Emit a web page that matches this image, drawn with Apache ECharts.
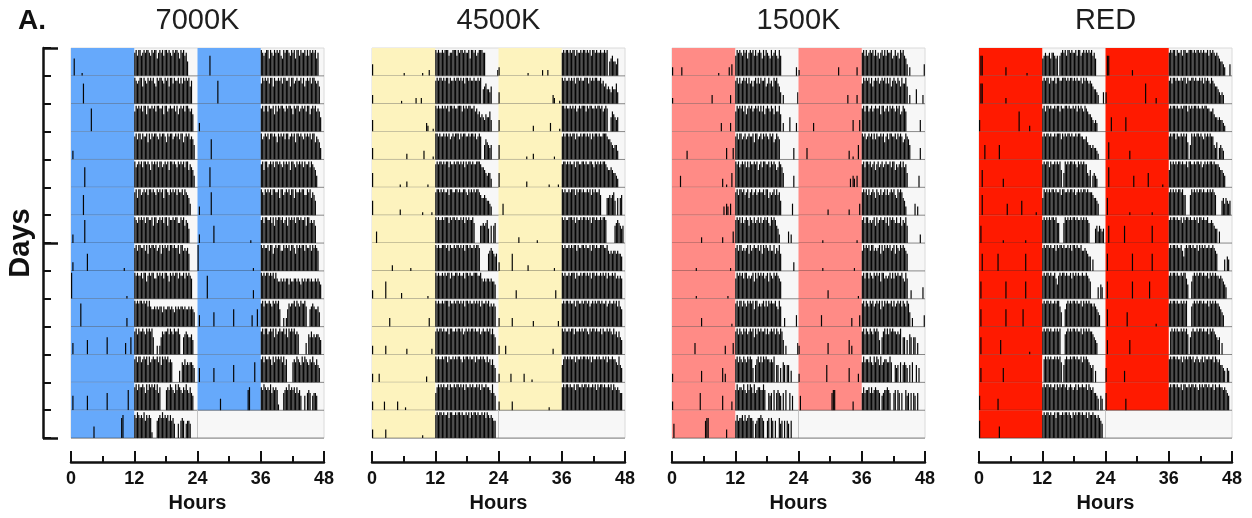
<!DOCTYPE html>
<html>
<head>
<meta charset="utf-8">
<script src="https://cdn.jsdelivr.net/npm/echarts@6/dist/echarts.min.js"></script>
<style>
  html, body { margin: 0; padding: 0; background: #ffffff; }
  #chart { width: 1252px; height: 518px; }
</style>
</head>
<body>
<div id="chart"></div>
<script>
// Double-plotted actograms: each row shows day n (0-24 h) and day n+1 (24-48 h).
// Activity is stored per day as 96 bins of 15 min (groups of 4 = one hour), counts scaled 0-9.
const HOUR_TICKS = [0, 12, 24, 36, 48];
const PANEL_TITLES = ['7000K', '4500K', '1500K', 'RED'];
const LIGHT_COLORS = ['#66a9fb', '#fdf3be', '#ff8b86', '#ff1a00'];

const ACT_7000K = [
  "0060 0000 1000 0000 0000 0000 0000 0000 0000 0000 0000 0000 8979 9789 8998 7989 9689 8979 9898 7989 9869 8978 5000 0000",
  "0000 0000 0700 0000 0000 0000 0000 0000 0000 0000 0000 0000 9878 9969 8798 9897 6989 9879 8969 9798 8979 7989 8968 0000",
  "0000 0000 0000 0008 0000 0000 0000 0000 0000 0000 0000 0000 7989 8979 9698 8989 7998 8969 9789 8897 9689 8979 9878 6000",
  "0300 0000 0000 0000 0000 0000 0000 0000 0000 0000 0000 0000 8979 9798 8969 7989 9879 8998 6989 9789 8979 9689 8978 7500",
  "0000 0000 0070 0000 0000 0000 0000 0000 0000 0000 0000 0000 9789 8979 9898 6989 8979 9789 8969 9898 7989 8979 9687 6400",
  "0000 0000 0700 0000 0000 0000 0000 0000 0000 0000 0000 0000 8969 9789 8979 9898 7989 8969 9879 8989 7988 9798 7640 0000",
  "0300 0000 0080 0000 0000 0000 0000 0000 0000 0000 0000 0000 9879 8989 7998 8969 9789 8979 9698 8989 9779 8968 7500 0000",
  "0300 0000 0000 6000 0000 0000 0000 0000 0000 0000 1000 0000 8979 9889 7969 8998 9789 6989 8979 9898 8969 9787 8600 0000",
  "9000 0000 0000 0000 0000 0000 0000 0000 0000 0000 0010 0000 9898 8979 9689 8997 7989 8979 9869 8989 9798 8979 8987 0000",
  "0000 0008 0000 0000 0000 0000 0000 0000 0000 0000 0030 0000 9898 9989 8979 7667 6767 7576 6776 7657 6767 7676 6767 6500",
  "0400 0000 0000 5000 0000 0000 0006 0000 0000 0000 0400 0600 8979 8898 7989 8960 0303 6878 8979 8798 8970 0678 7667 5000",
  "0000 0000 0000 0000 0000 0000 0000 0000 0000 0000 0000 0000 8979 9789 8969 7898 8979 6989 8978 7000 0040 7686 7677 6500",
  "0500 0000 0000 5000 0000 0000 0006 0000 0000 0000 0007 0000 8979 8898 6979 8989 7968 0000 7879 8769 7987 6879 7686 5000",
  "0000 0000 0000 0000 0400 0000 0000 0000 0000 0078 0000 0000 8798 7879 6878 7200 0678 7978 7868 6750 0506 7605 6650 0000"
];

const ACT_4500K = [
  "4000 0000 0000 0000 0000 0000 1000 0000 0000 0010 0002 0000 9898 8989 9978 8999 7989 9898 8969 9897 8999 8800 0000 0002",
  "3000 0000 0000 0000 0000 0010 0000 0000 0200 0200 0000 0000 8989 9898 9979 8898 9989 8979 9898 8988 9890 5675 5460 0000",
  "4000 0000 0000 0000 0000 0000 0000 0000 0000 0000 0320 0010 9898 8989 8979 9898 8999 7989 8998 8978 6756 5465 5740 0000",
  "4000 0000 0000 0000 0000 0000 0020 0000 0000 0003 0000 0010 9989 8898 9897 8989 9979 8998 8989 9897 8980 0576 5450 0000",
  "5000 0000 0000 0000 0000 0100 0020 0000 0000 0000 0010 0000 8989 9898 9979 8898 9989 8979 8998 9889 9987 7654 5530 0000",
  "5000 0000 0000 0000 0000 0200 0000 0000 0000 0010 0000 0100 8998 9898 8979 9889 9898 8998 7989 8989 9876 6765 5430 0000",
  "0004 0000 0000 0000 0000 0000 0000 0000 0000 0000 0000 0000 9898 8989 9979 8998 9889 8979 8988 9700 0066 7678 5060 6700",
  "0000 0000 0000 0002 0000 0000 0000 0100 0000 0000 0000 0000 9898 8999 8979 8898 9989 8979 9898 8989 9800 0000 6787 6560",
  "3000 0000 0060 0000 0000 0020 0000 0000 0000 0000 0010 0000 9898 8989 8997 9889 9898 8979 9898 8999 8897 6767 7676 6500",
  "0000 0000 0000 0300 0000 0000 0000 0000 0000 0000 0003 0000 9898 8989 9979 8898 9989 8979 9898 8989 8979 8898 9787 8700",
  "3000 0000 0030 0000 0000 0000 0020 0000 0000 0000 0000 0200 8989 9898 8979 9889 8998 9789 8989 9898 8978 9889 8979 7600",
  "3000 0300 0000 0000 0000 0000 0000 0000 0000 0000 0200 0000 9898 8989 9798 8989 8998 7989 9898 8979 8898 9879 7868 6500",
  "3000 0000 0300 0000 0003 0000 0100 0000 0000 0000 0000 0000 6898 9898 8979 8898 9989 8979 8898 9889 8979 8898 8769 6500",
  "3000 0000 0030 0000 0000 0000 0000 0000 0000 0010 0000 0000 8989 9898 8979 9889 8998 9889 8979 8998 9889 8979 8787 6600"
];

const ACT_1500K = [
  "3000 0003 0000 0000 0000 0000 0000 0000 0001 0000 0003 0400 7989 8798 9689 8979 7898 6979 8769 7897 6970 0000 0000 0030",
  "2000 0000 0000 0000 0000 0000 0000 0030 0000 0000 0000 3000 8979 7898 9797 8689 7979 8896 7978 6989 7640 3000 0000 0004",
  "0000 0000 0000 0000 0000 0000 0000 0000 0000 0300 0000 3000 7989 8979 6898 9789 8979 7968 9879 8697 7960 3000 0500 0030",
  "0000 0000 0003 0000 0000 0000 0000 0000 0000 0000 0400 0040 8979 9789 7898 8969 9789 7989 8798 9679 8700 0000 0000 4000",
  "0000 0040 0000 0000 0000 0000 0000 0000 0000 0030 0100 0500 9897 8989 7979 8898 9689 7998 8979 8986 7987 5000 0000 4000",
  "0000 0000 0000 0000 0000 0000 0000 0000 0000 0003 0430 4000 8979 9897 8968 9789 7898 8979 9687 8979 7850 0000 0004 0000",
  "0000 0000 0000 0000 0000 0020 0000 0000 0000 0020 0000 0040 8989 7978 9869 8797 8979 7898 9769 8986 5300 0000 4030 0000",
  "0000 0000 0000 0000 0010 0000 0000 0000 0000 0000 0000 1000 8979 9787 8969 7898 8979 6989 8797 7968 7960 0000 0000 3000",
  "0000 0000 0000 0000 0010 0000 0000 0000 0000 0000 0010 0000 7989 8979 9787 8969 7989 8978 9698 7989 8760 0000 0000 0000",
  "0000 0000 0000 0000 0000 0030 0000 0000 0000 0000 0000 0100 8979 9798 7989 8969 9787 8979 7989 8897 6970 0300 0000 0040",
  "0000 0000 0000 0000 0400 0000 0000 0000 0000 0000 3000 0040 8979 8798 9789 8969 7989 8897 9789 8979 8798 5030 0000 0004",
  "3000 0000 0000 0000 0000 0040 0000 0000 0000 0050 3000 0000 8979 8798 7989 8506 8979 7989 8878 7906 6050 7606 6040 0000",
  "3000 0000 0000 0000 0000 0600 0000 0000 0000 0050 0000 0300 7978 8797 6979 8696 7887 7970 0656 0706 7650 6070 0605 0000",
  "0500 0000 0000 0000 0000 0000 0677 0000 0000 0000 0300 0000 6867 7868 6787 7605 6778 7600 6707 6060 0756 0606 5060 0000"
];

const ACT_RED = [
  "0770 0000 0000 0000 0000 3000 0000 0000 0000 1000 0000 0000 6787 7868 8767 0789 8979 9898 8979 9789 8989 8978 6000 0000",
  "0770 0000 0000 0000 0000 2000 0000 0000 0000 0000 0000 0000 8989 9798 8979 9889 9989 8998 9898 8979 8987 8765 5430 0040",
  "4000 0000 0000 0000 0000 0000 0000 0070 0000 0020 0000 0000 8979 9898 8989 9798 8998 9889 8979 8987 9876 6543 4300 0000",
  "0000 5000 0000 0005 0000 0000 0000 0000 0000 0000 0000 0000 8989 9898 8989 9979 8989 9898 8989 9887 7865 5454 4320 0000",
  "0060 0000 0000 0000 0030 0000 0000 0000 0000 0000 0000 0000 8989 9798 8989 8960 5989 8998 9879 8989 8854 6045 4300 0000",
  "0070 0000 0000 0000 0000 0400 0000 0000 5000 0000 0001 0000 6989 8989 9898 8979 9889 8998 9789 8989 9898 8876 6540 0000",
  "0600 0000 0000 0000 0010 0000 0000 0000 0001 0000 0000 0000 8989 8989 9897 7000 7989 8989 9898 8989 8987 0000 5646 5450",
  "0060 0000 0000 0060 0000 0000 0000 0000 0006 0000 0000 0000 8989 9898 8979 8998 9889 8979 9898 8977 8765 5040 0000 0000",
  "0600 0000 0000 0000 0000 6000 0000 0000 0006 0000 0000 0000 8989 9898 8975 8989 9898 8979 8989 8898 8987 6000 0040 5400",
  "0600 0000 0000 0000 0000 6000 0000 0000 0600 0000 0000 0000 8989 9898 8989 9750 0689 8989 9898 8979 8989 8878 7654 0000",
  "0600 0000 0000 0000 5000 0000 0000 0000 0000 0010 0000 0000 8989 9898 8989 8900 0789 8989 9898 8979 8989 8876 5400 0000",
  "0500 0000 0000 0000 0050 0000 0000 0000 0000 0000 0000 0000 0898 9898 8989 8970 6898 8989 9898 8979 8987 6560 4000 0000",
  "5000 0000 0000 0040 0000 0000 0000 0000 0000 0000 0000 0000 8989 9898 8979 8989 9897 8987 8979 8898 8979 8786 6540 5400",
  "6000 0000 0000 0004 0000 0000 0000 0000 0000 0000 0000 0000 8989 9898 8979 9889 8998 9879 8989 9898 8979 8898 8787 6500"
];

// ---- drawing setup ----
const BIN_HOURS = 0.25;
const LIGHT_HOURS = 12;
const DAY_HOURS = 24;
const N_ROWS = 14;
const BAR_FILL = 0.93;
const BAR_WIDTH = 0.9;
const FONT = '"Liberation Sans", Arial, sans-serif';

function parseDay(s) {
  const d = s.replace(/\s+/g, '').split('').map(Number);
  while (d.length < 96) d.push(0);
  return d.slice(0, 96);
}

const PANEL_DATA = [ACT_7000K, ACT_4500K, ACT_1500K, ACT_RED].map(p => p.map(parseDay));
const PANEL_LEFT = [71, 372, 672, 979];
const PANEL_WIDTH = 253;
const PLOT_TOP = 48;
const PLOT_HEIGHT = 393;
const ROWS = Array.from({ length: N_ROWS }, (_, i) => [i]);

function rowRenderer(days, shade) {
  return function (params, api) {
    const row = api.value(0);
    const kids = [];
    [0, 1].forEach(function (half) {
      const counts = days[row + half];
      if (!counts) return;
      const off = half * DAY_HOURS;
      const a = api.coord([off, row]);
      const b = api.coord([off + LIGHT_HOURS, row + 1]);
      kids.push({
        type: 'rect',
        shape: { x: a[0], y: a[1], width: b[0] - a[0], height: b[1] - a[1] },
        style: { fill: shade }
      });
      counts.forEach(function (v, i) {
        if (!v) return;
        const t0 = off + i * BIN_HOURS;
        const p0 = api.coord([t0, row + 1]);
        const p1 = api.coord([t0 + BIN_HOURS * BAR_WIDTH, row + 1 - (v / 9) * BAR_FILL]);
        kids.push({
          type: 'rect',
          shape: { x: p0[0], y: p1[1], width: p1[0] - p0[0], height: p0[1] - p1[1] },
          style: { fill: '#050505' }
        });
      });
    });
    if (!days[row + 1]) {
      const p = api.coord([DAY_HOURS, row]);
      const q = api.coord([DAY_HOURS, row + 1]);
      kids.push({
        type: 'line',
        shape: { x1: p[0], y1: p[1], x2: q[0], y2: q[1] },
        style: { stroke: '#c4c4c4', lineWidth: 1 }
      });
    }
    const l = api.coord([0, row + 1]);
    const r = api.coord([48, row + 1]);
    kids.push({
      type: 'line',
      shape: { x1: l[0], y1: l[1], x2: r[0], y2: r[1] },
      style: { stroke: 'rgba(45,45,45,0.55)', lineWidth: 1 }
    });
    return { type: 'group', children: kids };
  };
}

const grids = PANEL_LEFT.map(left => ({
  left: left, top: PLOT_TOP, width: PANEL_WIDTH, height: PLOT_HEIGHT,
  show: true, backgroundColor: '#f7f7f7', borderColor: '#dadada', borderWidth: 1
}));

const xAxes = PANEL_LEFT.map((_, i) => ({
  gridIndex: i, type: 'value', min: 0, max: 48, interval: 12,
  position: 'bottom', offset: 24,
  axisLine: { show: true, onZero: false, lineStyle: { color: '#111', width: 2.5 } },
  axisTick: { show: true, inside: true, length: 11, lineStyle: { color: '#111', width: 2 } },
  minorTick: { show: true, splitNumber: 2, length: 6, lineStyle: { color: '#111', width: 2 } },
  axisLabel: {
    show: true, margin: 8, fontSize: 18, fontWeight: 'bold', color: '#111', fontFamily: FONT,
    showMinLabel: true, showMaxLabel: true,
    formatter: v => (HOUR_TICKS.indexOf(v) >= 0 ? String(v) : '')
  },
  splitLine: { show: false }, minorSplitLine: { show: false },
  name: 'Hours', nameLocation: 'middle', nameGap: 29,
  nameTextStyle: { fontSize: 20, fontWeight: 'bold', color: '#111', fontFamily: FONT }
}));

const yAxes = PANEL_LEFT.map((_, i) => ({
  gridIndex: i, type: 'value', min: 0, max: N_ROWS, interval: 1, inverse: true,
  position: 'left', offset: 28, show: i === 0,
  axisLine: { show: true, onZero: false, lineStyle: { color: '#111', width: 2.5 } },
  axisTick: { show: true, inside: true, length: 8, lineStyle: { color: '#111', width: 2 } },
  axisLabel: { show: false }, splitLine: { show: false }
}));
// longer ticks at day 0, 7 and 14
yAxes.push({
  gridIndex: 0, type: 'value', min: 0, max: N_ROWS, interval: 7, inverse: true,
  position: 'left', offset: 28,
  axisLine: { show: false, onZero: false },
  axisTick: { show: true, inside: true, length: 15, lineStyle: { color: '#111', width: 2.5 } },
  axisLabel: { show: false }, splitLine: { show: false }
});

const series = PANEL_DATA.map((days, i) => ({
  type: 'custom', xAxisIndex: i, yAxisIndex: i, data: ROWS,
  renderItem: rowRenderer(days, LIGHT_COLORS[i]),
  silent: true, clip: false
}));

const graphics = [
  { type: 'text', x: 18, y: 21, style: { text: 'A.', font: 'bold 28px ' + FONT, fill: '#111', align: 'left', verticalAlign: 'middle' } },
  { type: 'text', x: 21, y: 243, rotation: Math.PI / 2, style: { text: 'Days', font: 'bold 29px ' + FONT, fill: '#111', align: 'center', verticalAlign: 'middle' } }
].concat(PANEL_TITLES.map((t, i) => ({
  type: 'text', x: PANEL_LEFT[i] + PANEL_WIDTH / 2, y: 21,
  style: { text: t, font: '29px ' + FONT, fill: '#1e1e1e', align: 'center', verticalAlign: 'middle' }
})));

const chart = echarts.init(document.getElementById('chart'), null, { renderer: 'canvas' });
chart.setOption({
  animation: false,
  backgroundColor: '#ffffff',
  grid: grids,
  xAxis: xAxes,
  yAxis: yAxes,
  series: series,
  graphic: graphics
});
</script>
</body>
</html>
